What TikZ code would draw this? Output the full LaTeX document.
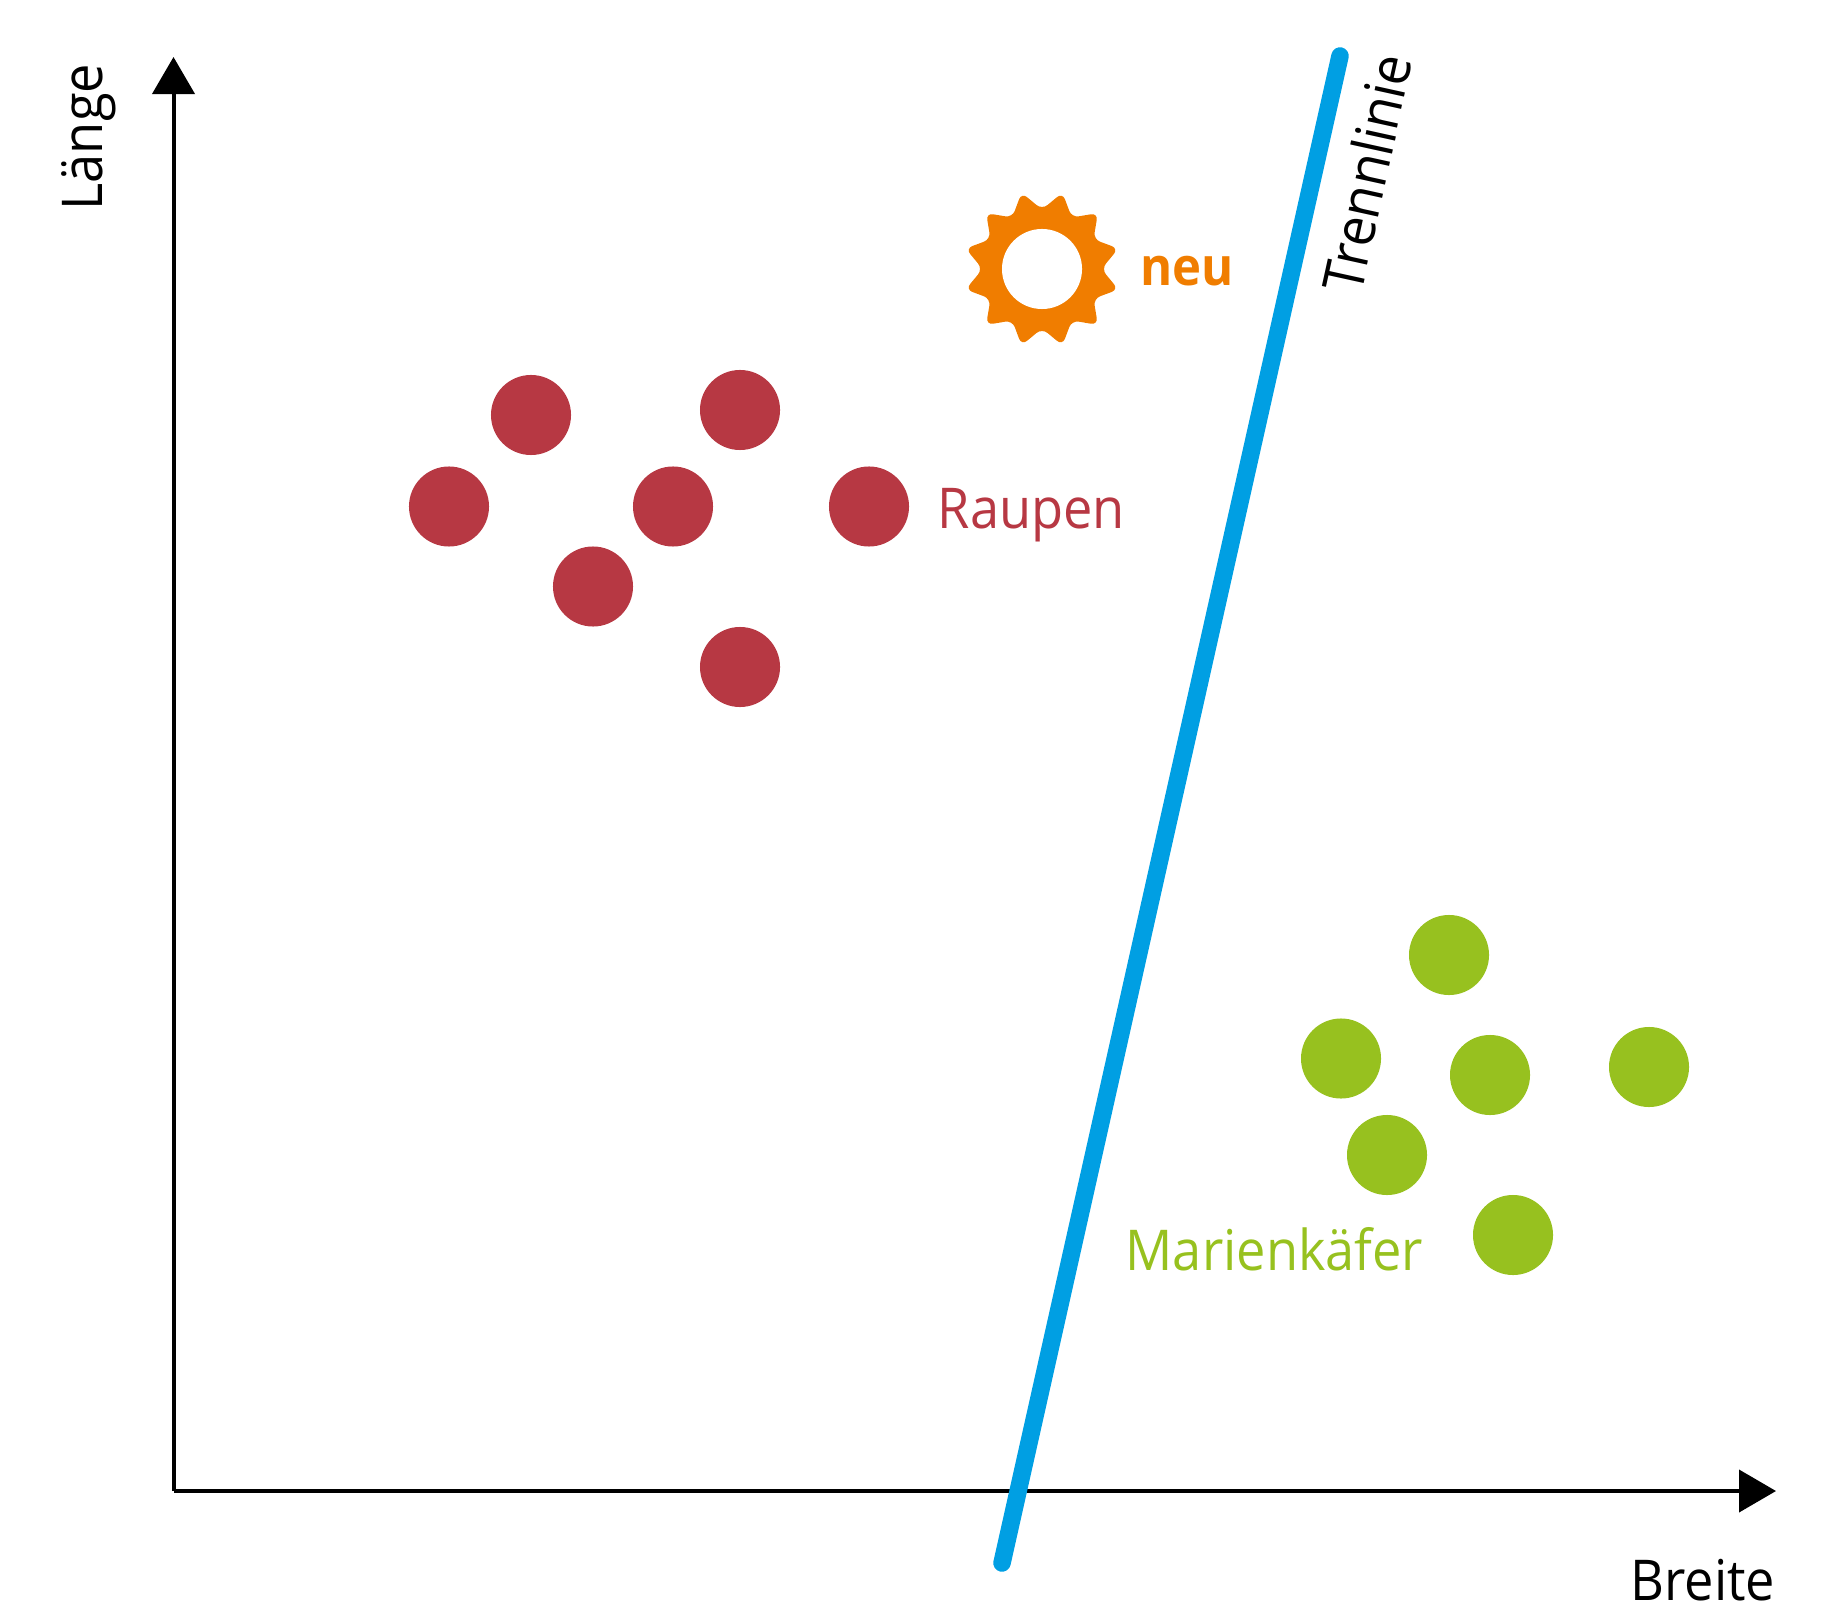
\documentclass[tikz,border=0pt]{standalone}
\usepackage{fontspec}
\setmainfont[FakeStretch=0.93]{Open Sans}
\usetikzlibrary{arrows.meta}
\usetikzlibrary{shapes.geometric}
\definecolor{raupe}{HTML}{B73843}
\definecolor{kaefer}{HTML}{97C11F}
\definecolor{trenn}{HTML}{009FE3}
\definecolor{neu}{HTML}{F07D00}

\begin{document}
\begin{tikzpicture}[x=0.01cm,y=-0.01cm]
		\tikzstyle{punkt}=[shape=circle,inner sep=0pt,minimum size=0.8cm]
		\tikzstyle{raupenpunkt}=[punkt,fill=raupe]
		\tikzstyle{kaeferpunkt}=[punkt,fill=kaefer]
		\tikzstyle{achse}=[line width=0.04cm,-{Triangle[length=0.37cm,width=0.42cm]}]
		\tikzstyle{beschriftung}=[inner sep=0pt,font=\fontsize{16pt}{18pt}\selectfont]
		
		\useasboundingbox (0,0) rectangle (1822,1616);
		
		\coordinate (ursprung) at (173.5,1491);
		\coordinate (xende) at (1776,1491);
		\coordinate (yende) at (173.5,57);
		\coordinate (trennoben) at (1340,56);
		\coordinate (trennunten) at (1002,1563);
		
		\draw[achse] (ursprung) -- (xende);
		\draw[achse] (ursprung) -- (yende);
		\draw[trenn,line width=0.175cm,line cap=round] (trennunten) -- (trennoben);
		
		\node[raupenpunkt](r1) at (531,415){};
		\node[raupenpunkt](r2) at (740,410){};
		\node[raupenpunkt](r3) at (449,506.5){};
		\node[raupenpunkt](r4) at (673,506.5){};
		\node[raupenpunkt](r5) at (869,506.5){};
		\node[raupenpunkt](r6) at (593,586.5){};
		\node[raupenpunkt](r7) at (740,667){};
		
		\node[kaeferpunkt](k1) at (1449,955){};
		\node[kaeferpunkt](k2) at (1341,1058.5){};
		\node[kaeferpunkt](k3) at (1490,1075){};
		\node[kaeferpunkt](k4) at (1649,1067){};
		\node[kaeferpunkt](k5) at (1387,1155){};
		\node[kaeferpunkt](k6) at (1513,1235){};
		
		\node[shape=star,star points=12,star point ratio=1.33,shape border rotate=15,inner sep=0pt,minimum size=1.58cm,fill=neu,rounded corners=0.07cm](sonne) at (1042,269){};
		\node[shape=circle,inner sep=0pt,minimum size=0.8cm,fill=white](loch) at (1042,269){};
		
		\node[beschriftung,anchor=base west,text=neu,font=\fontsize{15pt}{18pt}\selectfont\bfseries](neulabel) at (1140,286){neu};
		\node[beschriftung,anchor=base west,text=raupe](raupen) at (937,528){Raupen};
		\node[beschriftung,anchor=base west,text=kaefer](marienkaefer) at (1125,1270){Marienkäfer};
		\node[beschriftung,anchor=base east](breite) at (1776,1600){Breite};
		\node[beschriftung,anchor=base west,rotate=90](laenge) at (102,211){Länge};
		\node[beschriftung,anchor=base west,rotate=77.6](trennlinie) at (1361,296){Trennlinie};
		\end{tikzpicture}
\end{document}
